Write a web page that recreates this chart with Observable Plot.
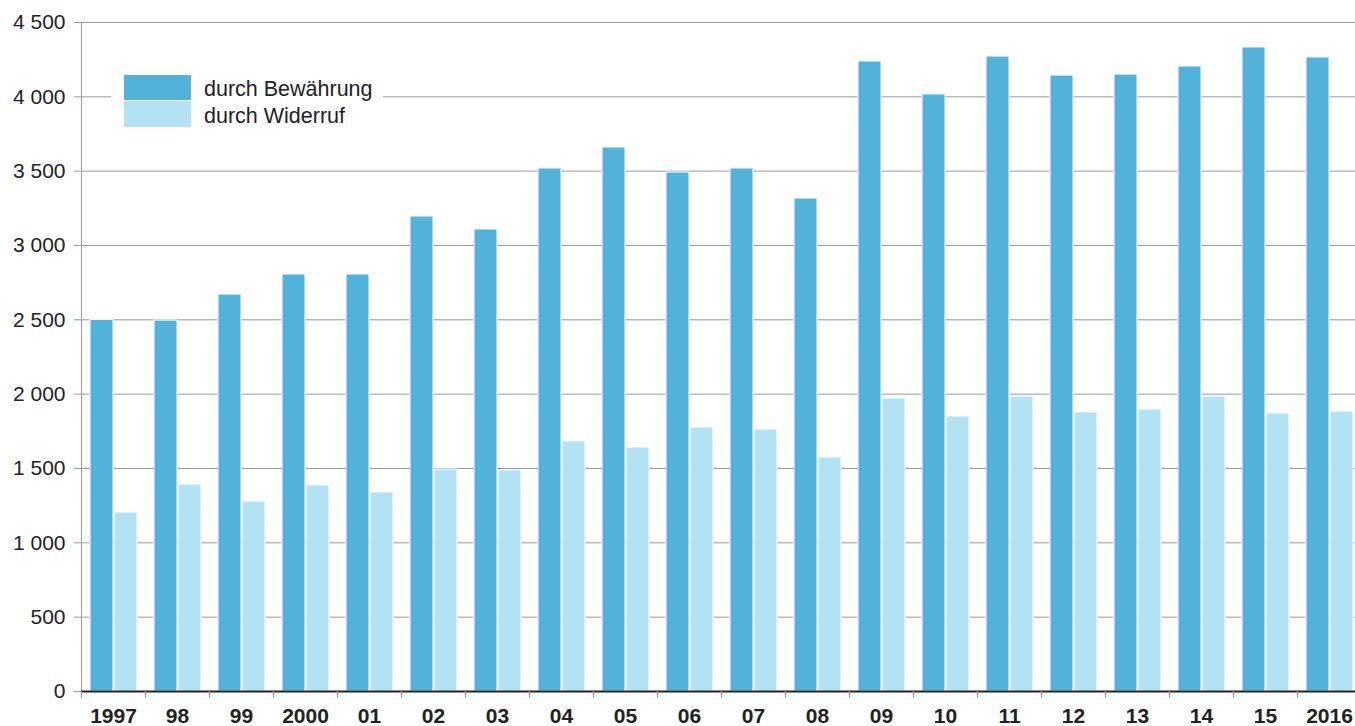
<!DOCTYPE html>
<html><head><meta charset="utf-8">
<script src="https://cdn.jsdelivr.net/npm/d3@7"></script>
<script src="https://cdn.jsdelivr.net/npm/@observablehq/plot@0.6"></script>
<style>
body{margin:0;background:#fff;font-family:"Liberation Sans",Arial,sans-serif;}
#wrap{position:relative;width:1355px;height:726px;overflow:hidden;}
#legend{position:absolute;left:111px;top:64px;width:272px;height:74px;background:#fff;}
.sw{position:absolute;left:13px;width:67px;}
.lt{position:absolute;left:93px;font-size:21.5px;color:#222;line-height:26px;white-space:nowrap;}
</style></head><body>
<div id="wrap"><div id="chart"></div>
<div id="legend">
  <div class="sw" style="top:11px;height:25px;background:#52b2da"></div>
  <div class="sw" style="top:37px;height:26px;background:#b3e2f2"></div>
  <div class="lt" style="top:12px">durch Bewährung</div>
  <div class="lt" style="top:39px">durch Widerruf</div>
</div>
</div>
<script>
const years = ["1997","98","99","2000","01","02","03","04","05","06","07","08","09","10","11","12","13","14","15","2016"];
const seriesNames = ["durch Bewährung","durch Widerruf"];
const bewaehrung = [2500,2495,2670,2805,2805,3195,3108,3518,3659,3491,3518,3316,4238,4016,4271,4143,4150,4204,4332,4265];
const widerruf = [1204,1392,1278,1386,1339,1493,1487,1682,1641,1776,1762,1574,1971,1850,1984,1877,1897,1984,1870,1883];
const yTicks = [0,500,1000,1500,2000,2500,3000,3500,4000,4500];
const colors = ["#52b2da","#b3e2f2"];

const data = years.flatMap((y,i)=>[
  {year:y, series:seriesNames[0], value:bewaehrung[i]},
  {year:y, series:seriesNames[1], value:widerruf[i]}
]);
const fmt = d3.formatLocale({thousands:"\u00a0", grouping:[3], decimal:",", currency:["","€"]}).format(",");

const W = 1355, ML = 80, MR = -7;
const step = (W - ML - MR) / years.length;

const chart = Plot.plot({
  width: W, height: 726,
  marginLeft: ML, marginRight: MR, marginTop: 22, marginBottom: 35,
  style: {fontFamily: '"Liberation Sans", Arial, sans-serif', fontSize: "21px", color: "#222", background: "#fff"},
  fx: {domain: years, padding: 0, label: null},
  x: {domain: seriesNames, paddingInner: 0.06, paddingOuter: 0.32, axis: null},
  y: {domain: [0, 4500], label: null},
  color: {domain: seriesNames, range: colors},
  marks: [
    Plot.gridY(yTicks, {stroke: "#999", strokeOpacity: 1, strokeWidth: 1}),
    Plot.axisY(yTicks, {tickSize: 7, tickPadding: 9, tickFormat: fmt, stroke: "#999", fill: "#222", label: null}),
    Plot.frame({anchor: "left", stroke: "#999", facetAnchor: "left"}),
    Plot.barY(data, {fx: "year", x: "series", y: "value", fill: "series", stroke: "#fff", strokeWidth: 1}),
    Plot.ruleY([0], {stroke: "#222", strokeWidth: 2}),
    Plot.axisFx({anchor: "bottom", tickSize: 7, tickFormat: () => "", stroke: "#999", dx: -step/2, label: null}),
    Plot.axisFx({anchor: "bottom", tickSize: 0, tickPadding: 17, fontWeight: "bold", fill: "#222", label: null})
  ]
});
document.getElementById("chart").appendChild(chart);
</script>
</body></html>
